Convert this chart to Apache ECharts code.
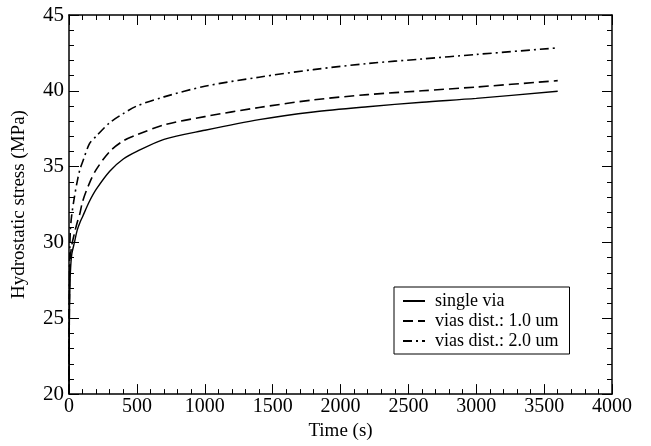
<!DOCTYPE html>
<html>
<head>
<meta charset="utf-8">
<script src="https://cdn.jsdelivr.net/npm/echarts@6/dist/echarts.min.js"></script>
<style>
    html, body { margin: 0; padding: 0; background: #fff; }
    #main { width: 651px; height: 446px; }
</style>
</head>
<body>
<div id="main"></div>
<script>
'use strict'
// time points (s) and hydrostatic stress (MPa)
var times = [0, 2, 5, 10, 20, 40, 60, 80, 100, 150, 200, 300, 400, 500, 700, 1000, 1400, 1800, 2200, 2600, 3000, 3600];
var singleVia = [20, 24, 26.5, 28, 29.2, 30, 30.8, 31.3, 31.7, 32.7, 33.5, 34.7, 35.5, 36.0, 36.8, 37.4, 38.1, 38.6, 38.95, 39.25, 39.5, 39.97];
var dist10 = [20, 25, 27.5, 29, 29.8, 30.6, 31.3, 31.9, 32.7, 33.9, 34.8, 36.0, 36.7, 37.1, 37.75, 38.3, 38.9, 39.4, 39.75, 40.0, 40.25, 40.67];
var dist20 = [20, 26, 29, 30.8, 31.8, 33.0, 34.0, 34.8, 35.3, 36.5, 37.0, 37.9, 38.5, 39.0, 39.6, 40.3, 40.9, 41.4, 41.8, 42.1, 42.4, 42.83];
var seriesNames = ['single via', 'vias dist.: 1.0 um', 'vias dist.: 2.0 um'];

function pairs(vals) {
    return times.map(function (t, i) { return [t, vals[i]]; });
}

var font = 'Liberation Serif';

function plain(v) { return String(v); }

function xAxisCfg(pos, labels) {
    return {
        type: 'value',
        position: pos,
        min: 0,
        max: 4000,
        interval: 500,
        name: labels ? 'Time (s)' : '',
        nameLocation: 'middle',
        nameGap: 25,
        nameTextStyle: { color: '#000', fontFamily: font, fontSize: 19 },
        axisLine: { show: true, onZero: false, lineStyle: { color: '#000', width: 1.5 } },
        axisTick: { show: true, inside: true, length: 10, lineStyle: { color: '#000', width: 1 } },
        minorTick: { show: true, splitNumber: 5, length: 5, lineStyle: { color: '#000', width: 1 } },
        axisLabel: { show: labels, color: '#000', fontFamily: font, fontSize: 20, margin: 3, formatter: plain },
        splitLine: { show: false }
    };
}

function yAxisCfg(pos, labels) {
    return {
        type: 'value',
        position: pos,
        min: 20,
        max: 45,
        interval: 5,
        name: labels ? 'Hydrostatic stress (MPa)' : '',
        nameLocation: 'middle',
        nameGap: 40,
        nameTextStyle: { color: '#000', fontFamily: font, fontSize: 19 },
        axisLine: { show: true, onZero: false, lineStyle: { color: '#000', width: 1.5 } },
        axisTick: { show: true, inside: true, length: 10, lineStyle: { color: '#000', width: 1 } },
        minorTick: { show: true, splitNumber: 5, length: 5, lineStyle: { color: '#000', width: 1 } },
        axisLabel: { show: labels, color: '#000', fontFamily: font, fontSize: 21, margin: 5, formatter: plain },
        splitLine: { show: false }
    };
}

function lineSeries(name, vals, dash, width) {
    return {
        name: name,
        type: 'line',
        showSymbol: false,
        symbol: 'none',
        smooth: 0.3,
        color: '#000',
        lineStyle: { color: '#000', width: width, type: dash },
        data: pairs(vals)
    };
}

var option = {
    backgroundColor: '#fff',
    animation: false,
    grid: {
        left: 69,
        right: 39,
        top: 15,
        bottom: 50
    },
    legend: {
        data: seriesNames,
        orient: 'vertical',
        left: 394,
        top: 287,
        padding: [5, 11, 4, 8],
        itemGap: 2,
        itemWidth: 22,
        itemHeight: 10,
        backgroundColor: '#fff',
        borderColor: '#000',
        borderWidth: 1,
        borderRadius: 0,
        itemStyle: { opacity: 0 },
        textStyle: { color: '#000', fontFamily: font, fontSize: 18, padding: [0, 0, 0, 5] }
    },
    xAxis: [xAxisCfg('bottom', true), xAxisCfg('top', false)],
    yAxis: [yAxisCfg('left', true), yAxisCfg('right', false)],
    series: [
        lineSeries(seriesNames[0], singleVia, 'solid', 1.4),
        lineSeries(seriesNames[1], dist10, [10, 5], 1.6),
        lineSeries(seriesNames[2], dist20, [9, 4, 2, 4], 1.6)
    ]
};

var myChart = echarts.init(document.getElementById('main'));
myChart.setOption(option);
</script>
</body>
</html>
